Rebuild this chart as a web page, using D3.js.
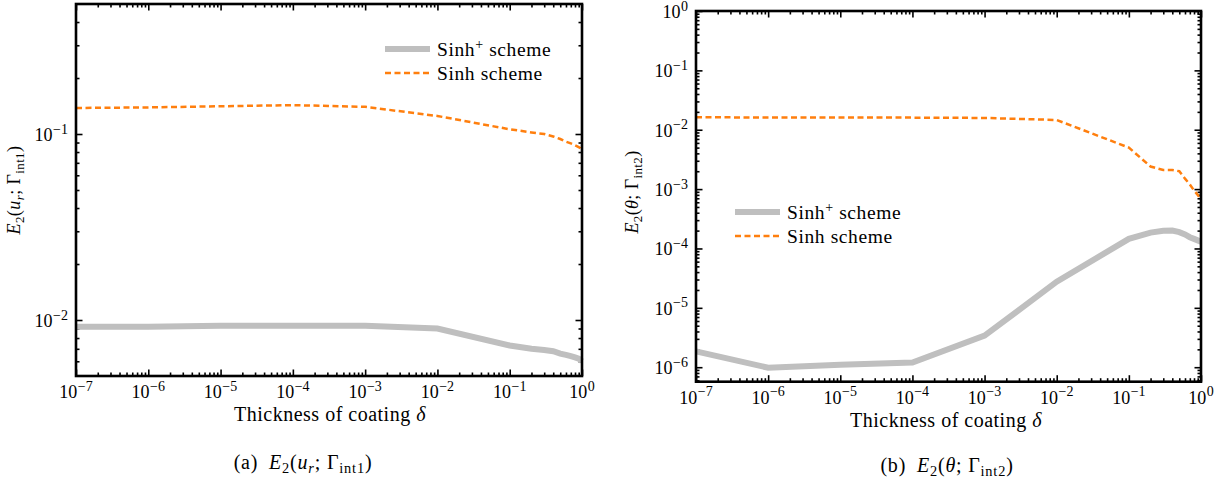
<!DOCTYPE html>
<html><head><meta charset="utf-8">
<script src="https://cdn.jsdelivr.net/npm/d3@7"></script>
<style>
body{margin:0;background:#fff}
text{font-family:"Liberation Serif","DejaVu Serif",serif;fill:#000}
</style></head>
<body><svg id="c" width="1220" height="484"></svg>
<script>
// ---- data ----
const delta = [1e-7, 1e-6, 1e-5, 1e-4, 1e-3, 1e-2, 0.1, 0.2, 0.3, 0.4, 0.5, 0.6, 0.7, 0.8, 0.9, 1.0];
const leftSinhPlus  = [0.0092, 0.0092, 0.0093, 0.0093, 0.0093, 0.0090, 0.0073, 0.0070, 0.0069, 0.0068, 0.0066, 0.0065, 0.0064, 0.0063, 0.0062, 0.0060];
const leftSinh      = [0.138, 0.139, 0.141, 0.143, 0.140, 0.125, 0.106, 0.102, 0.100, 0.097, 0.094, 0.091, 0.089, 0.087, 0.085, 0.083];
const rightSinhPlus = [1.85e-6, 0.98e-6, 1.1e-6, 1.2e-6, 3.4e-6, 2.76e-5, 1.45e-4, 1.85e-4, 1.98e-4, 2.0e-4, 1.88e-4, 1.72e-4, 1.55e-4, 1.45e-4, 1.37e-4, 1.3e-4];
const rightSinh     = [0.0162, 0.0161, 0.0160, 0.0160, 0.0158, 0.0146, 0.0050, 0.0024, 0.0021, 0.0021, 0.0020, 0.0015, 0.0012, 0.00095, 0.0008, 0.00066];
const xTickExps = [-7, -6, -5, -4, -3, -2, -1, 0];
const leftYTickExps = [-2, -1];
const rightYTickExps = [-6, -5, -4, -3, -2, -1, 0];
const seriesNames = ["Sinh", "Sinh scheme"];
const xLabel = "Thickness of coating ";
const captions = ["(a)\u2002", "(b)\u2002"];

const svg = d3.select("#c");
const FS = 18;

function minorTicks(domain){
  const out = [];
  const lo = Math.floor(Math.log10(domain[0])), hi = Math.ceil(Math.log10(domain[1]));
  for (let d = lo; d < hi; d++) for (let k = 2; k <= 9; k++) {
    const v = k * Math.pow(10, d);
    if (v > domain[0] * 1.0001 && v < domain[1] * 0.9999) out.push(v);
  }
  return out;
}
function powLabel(sel, exp){
  sel.text(null);
  sel.append("tspan").text("10");
  sel.append("tspan").attr("dy", -7.5).attr("dx", 0.5).attr("font-size", 14).text(exp < 0 ? "\u2212" + (-exp) : String(exp));
}

function panel(cfg){
  const g = svg.append("g");
  const x = d3.scaleLog().domain([1e-7, 1]).range([cfg.left, cfg.right]);
  const y = d3.scaleLog().domain(cfg.ydom).range([cfg.bottom, cfg.top]);
  const xMaj = xTickExps.map(e => Math.pow(10, e));
  const yMaj = cfg.yExps.map(e => Math.pow(10, e));
  const xMin = minorTicks(x.domain());
  const yMin = minorTicks(y.domain());
  const fmt = () => "";
  function ax(axis, tr, vals, size){
    const a = g.append("g").attr("transform", tr)
      .call(axis.tickValues(vals).tickSizeInner(-size).tickSizeOuter(0).tickFormat(fmt));
    a.select(".domain").remove();
    a.selectAll(".tick line").attr("stroke", "#000").attr("stroke-width", 1.6);
    a.selectAll(".tick text").remove();
    return a;
  }
  ax(d3.axisBottom(x), `translate(0,${cfg.bottom})`, xMaj, 6.5);
  ax(d3.axisBottom(x), `translate(0,${cfg.bottom})`, xMin, 3.5);
  ax(d3.axisTop(x), `translate(0,${cfg.top})`, xMaj, 6.5);
  ax(d3.axisTop(x), `translate(0,${cfg.top})`, xMin, 3.5);
  ax(d3.axisLeft(y), `translate(${cfg.left},0)`, yMaj, 6.5);
  ax(d3.axisLeft(y), `translate(${cfg.left},0)`, yMin, 3.5);
  ax(d3.axisRight(y), `translate(${cfg.right},0)`, yMaj, 6.5);
  ax(d3.axisRight(y), `translate(${cfg.right},0)`, yMin, 3.5);

  xTickExps.forEach(e => {
    g.append("text").attr("x", x(Math.pow(10, e))).attr("y", cfg.bottom + 22)
      .attr("text-anchor", "middle").attr("font-size", FS).call(s => powLabel(s, e));
  });
  cfg.yExps.forEach(e => {
    g.append("text").attr("x", cfg.left - 8).attr("y", y(Math.pow(10, e)) + 7)
      .attr("text-anchor", "end").attr("font-size", FS).call(s => powLabel(s, e));
  });

  const line = d3.line().x((d, i) => x(delta[i])).y(d => y(d));
  g.append("path").datum(cfg.plus).attr("d", line)
    .attr("fill", "none").attr("stroke", "#bfbfbf").attr("stroke-width", 6);
  g.append("path").datum(cfg.sinh).attr("d", line)
    .attr("fill", "none").attr("stroke", "#ff7f0e").attr("stroke-width", 2.5).attr("stroke-dasharray", "6,3.5");

  g.append("rect").attr("x", cfg.left).attr("y", cfg.top)
    .attr("width", cfg.right - cfg.left).attr("height", cfg.bottom - cfg.top)
    .attr("fill", "none").attr("stroke", "#000").attr("stroke-width", 2.6);

  // legend
  const L = cfg.legend;
  const LF = 19.5;
  g.append("line").attr("x1", L.x).attr("x2", L.x + 45).attr("y1", L.y).attr("y2", L.y)
    .attr("stroke", "#bfbfbf").attr("stroke-width", 6);
  const t1 = g.append("text").attr("x", L.x + 52).attr("y", L.y + 7).attr("font-size", LF).attr("letter-spacing", 0.6);
  t1.append("tspan").text(seriesNames[0]);
  t1.append("tspan").attr("dy", -7.5).attr("font-size", 14).text("+");
  t1.append("tspan").attr("dy", 7.5).text(" scheme");
  g.append("line").attr("x1", L.x).attr("x2", L.x + 45).attr("y1", L.y + 24).attr("y2", L.y + 24)
    .attr("stroke", "#ff7f0e").attr("stroke-width", 2.5).attr("stroke-dasharray", "6,3.5");
  g.append("text").attr("x", L.x + 52).attr("y", L.y + 31).attr("font-size", LF).attr("letter-spacing", 0.6).text(seriesNames[1]);

  // x label
  const xl = g.append("text").attr("x", cfg.xlab[0]).attr("y", cfg.xlab[1])
    .attr("text-anchor", "middle").attr("font-size", 20).attr("letter-spacing", 0.5);
  xl.append("tspan").text(xLabel);
  xl.append("tspan").attr("font-style", "italic").text("\u03B4");

  // y label (rotated)
  const yl = g.append("text").attr("transform", `translate(${cfg.ylab[0]},${cfg.ylab[1]}) rotate(-90)`)
    .attr("text-anchor", "middle").attr("font-size", 18).attr("letter-spacing", 0.4);
  mathLabel(yl, cfg.sym, cfg.symItalic, cfg.gsub, 18);

  // caption
  const cp = g.append("text").attr("x", cfg.cap[0]).attr("y", cfg.cap[1])
    .attr("text-anchor", "middle").attr("font-size", 20).attr("letter-spacing", 0.8);
  cp.append("tspan").text(cfg.capText);
  mathLabel(cp, cfg.sym, cfg.symItalic, cfg.gsub, 20);
}

function mathLabel(t, sym, symSub, gsub, fs){
  const sub = fs * 0.72;
  const d = fs * 0.22;
  t.append("tspan").attr("font-style", "italic").text("E");
  t.append("tspan").attr("dy", d).attr("font-size", sub).text("2");
  t.append("tspan").attr("dy", -d).text("(");
  t.append("tspan").attr("font-style", "italic").text(sym);
  if (symSub) {
    t.append("tspan").attr("dy", d).attr("font-size", sub).attr("font-style", "italic").text(symSub);
    t.append("tspan").attr("dy", -d).text("; \u0393");
  } else {
    t.append("tspan").text("; \u0393");
  }
  t.append("tspan").attr("dy", d).attr("font-size", sub).text(gsub);
  t.append("tspan").attr("dy", -d).text(")");
}

panel({left: 76, right: 582, top: 4, bottom: 376, ydom: [0.005, 0.5], yExps: leftYTickExps,
  plus: leftSinhPlus, sinh: leftSinh, legend: {x: 385, y: 49},
  xlab: [330, 421], ylab: [20, 190], cap: [303, 469], capText: captions[0],
  sym: "u", symItalic: "r", gsub: "int1"});
panel({left: 696, right: 1201, top: 11, bottom: 381.7, ydom: [5.7e-7, 1], yExps: rightYTickExps,
  plus: rightSinhPlus, sinh: rightSinh, legend: {x: 735, y: 212},
  xlab: [946, 427], ylab: [638, 192], cap: [947, 472], capText: captions[1],
  sym: "\u03B8", symItalic: null, gsub: "int2"});
</script></body></html>
